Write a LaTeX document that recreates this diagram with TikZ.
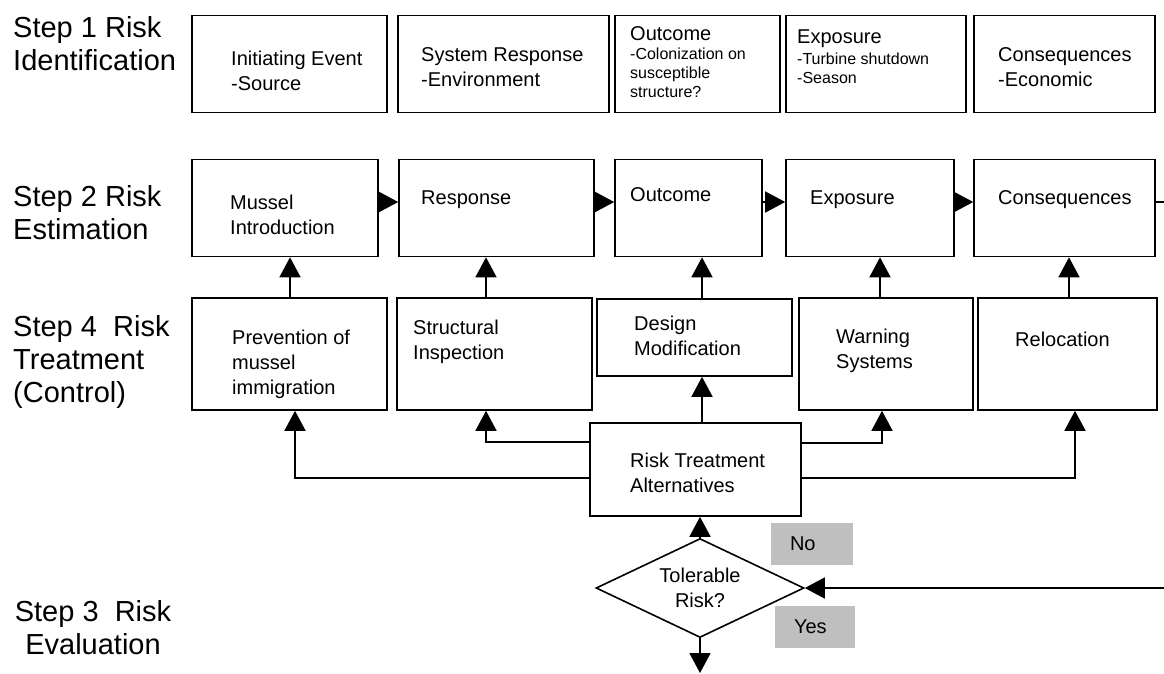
\documentclass[tikz,border=0pt]{standalone}
\usepackage{fontspec}
\setmainfont{Liberation Sans}
\usetikzlibrary{arrows.meta,shapes.geometric}

\begin{document}
\begin{tikzpicture}[x=1pt,y=-1pt,
    box/.style={draw,line width=1.6pt,inner sep=0pt},
    txt/.style={anchor=west,align=left,inner sep=0pt,font=\fontsize{20}{25}\selectfont},
    subtxt/.style={txt,font=\fontsize{16}{19}\selectfont},
    steplabel/.style={anchor=west,align=left,inner sep=0pt,font=\fontsize{29}{33}\selectfont},
    answer/.style={fill=black!25,inner xsep=19pt,inner ysep=0pt,minimum height=42pt,align=left,font=\fontsize{20}{25}\selectfont},
    tri/.style={line width=1.6pt,-{Triangle[length=20pt,width=21pt]}}]
    \useasboundingbox (0,0) rectangle (1164,673);
    \clip (0,0) rectangle (1164,673);

    \node[steplabel] (lab1) at (13,44) {Step 1 Risk\\Identification};
    \node[steplabel] (lab2) at (13,213) {Step 2 Risk\\Estimation};
    \node[steplabel] (lab4) at (13,362) {Step 4\ \ Risk\\Treatment\\(Control)};
    \node[steplabel,anchor=center,align=center] (lab3) at (93,628) {Step 3\ \ Risk\\Evaluation};

    \node[box,minimum width=195pt,minimum height=97pt] (idEvent) at (289.5,64) {};
    \node[box,minimum width=211pt,minimum height=97pt] (idResp) at (503.5,64) {};
    \node[box,minimum width=165pt,minimum height=97pt] (idOut) at (697.5,64) {};
    \node[box,minimum width=180pt,minimum height=97pt] (idExp) at (876,64) {};
    \node[box,minimum width=181pt,minimum height=97pt] (idCons) at (1064.5,64) {};

    \node[txt] (tEvent) at (231,70.5) {Initiating Event\\-Source};
    \node[txt] (tResp) at (421,67.5) {System Response\\-Environment};
    \node[txt] (tOut) at (630,34) {Outcome};
    \node[subtxt] (tOutSub) at (630,72.5) {-Colonization on\\susceptible\\structure?};
    \node[txt] (tExp) at (797,39) {Exposure};
    \node[subtxt] (tExpSub) at (797,68) {-Turbine shutdown\\-Season};
    \node[txt] (tCons) at (998,67.5) {Consequences\\-Economic};

    \node[box,minimum width=186pt,minimum height=97pt] (estIntro) at (285,208) {};
    \node[box,minimum width=195pt,minimum height=97pt] (estResp) at (496.5,208) {};
    \node[box,minimum width=147pt,minimum height=97pt] (estOut) at (688.5,208) {};
    \node[box,minimum width=168pt,minimum height=97pt] (estExp) at (870,208) {};
    \node[box,minimum width=181pt,minimum height=97pt] (estCons) at (1064.5,208) {};

    \node[txt] (eIntro) at (230,215) {Mussel\\Introduction};
    \node[txt] (eResp) at (421,200) {Response};
    \node[txt] (eOut) at (630,195) {Outcome};
    \node[txt] (eExp) at (810,200) {Exposure};
    \node[txt] (eCons) at (998,200) {Consequences};

    \node[box,minimum width=195pt,minimum height=112pt] (trPrev) at (289.5,354) {};
    \node[box,minimum width=195pt,minimum height=112pt] (trInsp) at (494.5,354) {};
    \node[box,minimum width=195pt,minimum height=77pt] (trDesign) at (694.5,337.5) {};
    \node[box,minimum width=174pt,minimum height=112pt] (trWarn) at (886,354) {};
    \node[box,minimum width=179pt,minimum height=112pt] (trReloc) at (1067.5,354) {};

    \node[txt] (cPrev) at (232,364) {Prevention of\\mussel\\immigration};
    \node[txt] (cInsp) at (413,341.5) {Structural\\Inspection};
    \node[txt] (cDesign) at (634,335.5) {Design\\Modification};
    \node[txt] (cWarn) at (836,351) {Warning\\Systems};
    \node[txt] (cReloc) at (1015,339) {Relocation};

    \node[box,minimum width=211pt,minimum height=93pt] (rta) at (695.5,469.5) {};
    \node[txt] (cRta) at (630,473) {Risk Treatment\\Alternatives};

    \node[box,diamond,aspect=2.1,minimum width=208pt,minimum height=99pt,align=center,font=\fontsize{20}{25}\selectfont] (tol) at (700,588) {Tolerable\\Risk?};
    \node[answer,text width=44pt] (ansNo) at (812,544) {No};
    \node[answer,text width=42pt] (ansYes) at (815,627) {Yes};
    \coordinate (exitYes) at (700,673);

    \draw[tri] ([yshift=6pt]estIntro.east) -- ([yshift=6pt]estResp.west);
    \draw[tri] ([yshift=6pt]estResp.east) -- ([yshift=6pt]estOut.west);
    \draw[tri] ([yshift=6pt]estOut.east) -- ([yshift=6pt]estExp.west);
    \draw[tri] ([yshift=6pt]estExp.east) -- ([yshift=6pt]estCons.west);
    \draw[tri] ([yshift=6pt]estCons.east) -- ++(25,0) |- (tol.east);

    \draw[tri] (290,0 |- trPrev.north) -- (290,0 |- estIntro.south);
    \draw[tri] (486,0 |- trInsp.north) -- (486,0 |- estResp.south);
    \draw[tri] (702,0 |- trDesign.north) -- (702,0 |- estOut.south);
    \draw[tri] (880,0 |- trWarn.north) -- (880,0 |- estExp.south);
    \draw[tri] (1069,0 |- trReloc.north) -- (1069,0 |- estCons.south);

    \draw[tri] (702,0 |- rta.north) -- (702,0 |- trDesign.south);
    \draw[tri] (rta.west |- 0,442) -| (486,0 |- trInsp.south);
    \draw[tri] (rta.west |- 0,478) -| (295,0 |- trPrev.south);
    \draw[tri] (rta.east |- 0,443) -| (882,0 |- trWarn.south);
    \draw[tri] (rta.east |- 0,478) -| (1075,0 |- trReloc.south);

    \draw[tri] (tol.north) -- (tol.north |- rta.south);
    \draw[tri] (tol.south) -- (exitYes);
\end{tikzpicture}
\end{document}
